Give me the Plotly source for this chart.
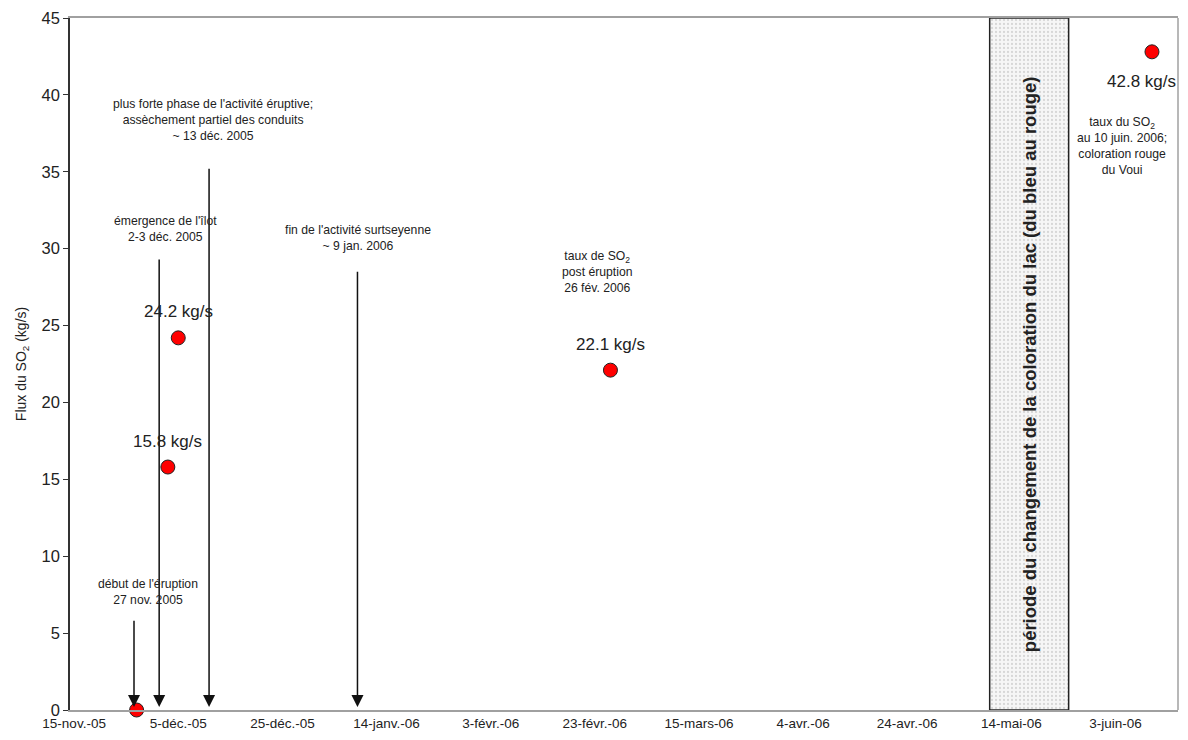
import plotly.graph_objects as go

# mesures de flux de SO2
dates = ["2005-11-27", "2005-12-03", "2005-12-05", "2006-02-26", "2006-06-10"]
flux = [0, 15.8, 24.2, 22.1, 42.8]
flux_labels = ["", "15.8 kg/s", "24.2 kg/s", "22.1 kg/s", "42.8 kg/s"]

# evenements (fleches)
event_dates = ["2005-11-26 12:00", "2005-12-01 08:00", "2005-12-10 22:00", "2006-01-08 10:00"]
event_tops = [5.9, 29.4, 35.3, 28.6]

# periode du changement de couleur du lac
period_start = "2006-05-09 20:00"
period_end = "2006-05-25 00:00"

tick_dates = ["2005-11-15", "2005-12-05", "2005-12-25", "2006-01-14", "2006-02-03",
              "2006-02-23", "2006-03-15", "2006-04-04", "2006-04-24", "2006-05-14", "2006-06-03"]
tick_text = ["15-nov.-05", "5-déc.-05", "25-déc.-05", "14-janv.-06", "3-févr.-06",
             "23-févr.-06", "15-mars-06", "4-avr.-06", "24-avr.-06", "14-mai-06", "3-juin-06"]

font = "Liberation Sans, Arial, sans-serif"

fig = go.Figure()

# zone pointillee
fig.add_trace(go.Scatter(
    x=[period_start, period_end, period_end, period_start, period_start],
    y=[0, 0, 45, 45, 0], mode="lines", fill="toself",
    line=dict(color="#222", width=1.5),
    fillcolor="#f2f2f2",
    fillpattern=dict(shape=".", fgcolor="#b8b8b8", bgcolor="#f6f6f6", size=4, solidity=0.25),
    hoverinfo="skip", showlegend=False))

fig.add_trace(go.Scatter(
    x=dates, y=flux, mode="markers",
    marker=dict(size=14, color="#ff0000", line=dict(color="#222", width=1)),
    showlegend=False, cliponaxis=False))

# fleches
for d, top in zip(event_dates, event_tops):
    fig.add_annotation(x=d, y=0.2, ax=d, ay=top, xref="x", yref="y", axref="x", ayref="y",
                       showarrow=True, arrowhead=2, arrowsize=1.6, arrowwidth=1.5,
                       arrowcolor="#111", text="")

# etiquettes des valeurs
for d, v, lab in zip(dates, flux, flux_labels):
    if not lab:
        continue
    if v > 40:
        fig.add_annotation(x=d, y=v, text=lab, showarrow=False, yshift=-30, xshift=-10,
                           font=dict(size=17, color="#222"))
    else:
        fig.add_annotation(x=d, y=v, text=lab, showarrow=False, yshift=26,
                           font=dict(size=17, color="#222"))

notes = [
    ("2005-11-29 05:00", 7.67, "début de l'éruption<br>27 nov. 2005"),
    ("2005-12-02 12:00", 31.27, "émergence de l'îlot<br>2-3 déc. 2005"),
    ("2005-12-11 17:00", 38.36, "plus forte phase de l'activité éruptive;<br>assèchement partiel des conduits<br>~ 13 déc. 2005"),
    ("2006-01-08 12:00", 30.72, "fin de l'activité surtseyenne<br>~ 9 jan. 2006"),
    ("2006-02-23 12:00", 28.48, "taux de SO<sub>2</sub><br>post éruption<br>26 fév. 2006"),
    ("2006-06-04 08:00", 36.7, "taux du SO<sub>2</sub><br>au 10 juin. 2006;<br>coloration rouge<br>du Voui"),
]
for x, y, t in notes:
    fig.add_annotation(x=x, y=y, text=t, showarrow=False, align="center",
                       font=dict(size=12.2, color="#222"))

fig.add_annotation(x="2006-05-17 10:00", y=22.5, text="<b>période du changement de la coloration du lac (du bleu au rouge)</b>",
                   showarrow=False, textangle=-90, font=dict(size=18.5, color="#222"))

# bordure droite grise
fig.add_shape(type="line", xref="paper", yref="paper", x0=1, x1=1, y0=0, y1=1,
              line=dict(color="#a0a0a0", width=1.5))

fig.update_layout(
    width=1180, height=732,
    margin=dict(l=62, r=10, t=10, b=30),
    plot_bgcolor="white", paper_bgcolor="white",
    font=dict(family=font, color="#222"),
    xaxis=dict(type="date", range=["2005-11-14 05:00", "2006-06-15 00:00"],
               tickvals=tick_dates, ticktext=tick_text, tickfont=dict(size=13.5),
               showgrid=False, zeroline=False, showline=True, linecolor="#a0a0a0",
               linewidth=1.5, mirror=True, ticks="", automargin=False),
    yaxis=dict(range=[0, 45], dtick=5, tickfont=dict(size=16.5), showgrid=False,
               zeroline=False, showline=True, linecolor="#333", linewidth=1.5,
               ticks="outside", ticklen=5, tickcolor="#333", automargin=False,
               title=dict(text="Flux du SO<sub>2</sub> (kg/s)", font=dict(size=14), standoff=12)),
)

fig.write_html("out.html")
